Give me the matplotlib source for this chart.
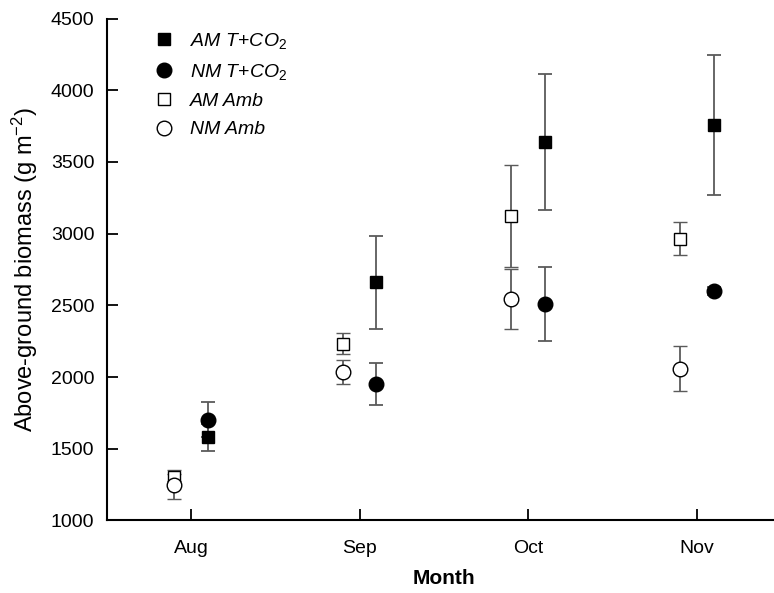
import matplotlib
matplotlib.use("Agg")
import matplotlib.pyplot as plt
from matplotlib.lines import Line2D
import numpy as np

plt.rcParams['font.family'] = ['Liberation Sans', 'DejaVu Sans']
plt.rcParams['mathtext.fontset'] = 'custom'
plt.rcParams['mathtext.rm'] = 'Liberation Sans'
plt.rcParams['mathtext.it'] = 'Liberation Sans:italic'

months = ["Aug", "Sep", "Oct", "Nov"]
am_t = [1579, 2660, 3638, 3759]
am_t_err = [93, 323, 472, 490]
nm_t = [1703, 1952, 2507, 2600]
nm_t_err = [124, 146, 258, 30]
am_amb = [1300, 2232, 3124, 2966]
am_amb_err = [25, 73, 353, 114]
nm_amb = [1250, 2038, 2547, 2059]
nm_amb_err = [100, 84, 210, 158]
labels = [r"$\mathit{AM\ T{+}CO_2}$", r"$\mathit{NM\ T{+}CO_2}$", "AM Amb", "NM Amb"]

fig = plt.figure(figsize=(7.74, 5.93), dpi=100)
ax = fig.add_axes([0.138, 0.1223, 0.871, 0.8464])

x = np.arange(1, len(months) + 1)
off = 0.1
ecol = "#5a5a5a"
common = dict(linestyle="none", ecolor=ecol, elinewidth=1.3, capsize=5, capthick=1.3, zorder=3)

sq_ms, ci_ms = 8.5, 10.5
ax.errorbar(x + off, am_t, yerr=am_t_err, marker="s", ms=sq_ms, mfc="black", mec="black", **common)
ax.errorbar(x + off, nm_t, yerr=nm_t_err, marker="o", ms=ci_ms, mfc="black", mec="black", **common)
ax.errorbar(x - off, am_amb, yerr=am_amb_err, marker="s", ms=sq_ms, mfc="white", mec="black",
            mew=1.0, **common)
ax.errorbar(x - off, nm_amb, yerr=nm_amb_err, marker="o", ms=ci_ms, mfc="white", mec="black",
            mew=1.0, **common)

ax.set_xlim(0.5, 4.5)
ax.set_ylim(1000, 4500)
ax.set_xticks(x)
ax.set_xticklabels(months)
ax.set_yticks(np.arange(1000, 4501, 500))
ax.tick_params(direction="in", length=8, width=1.3, labelsize=14, colors="black")
ax.tick_params(axis="y", pad=9)
ax.tick_params(axis="x", pad=14)
for s in ["top", "right"]:
    ax.spines[s].set_visible(False)
for s in ["left", "bottom"]:
    ax.spines[s].set_linewidth(1.5)

ax.set_xlabel("Month", fontsize=15, fontweight="bold", labelpad=9)
ax.set_ylabel(r"Above-ground biomass (g m$^{\mathregular{-2}}$)", fontsize=17, labelpad=8)

handles = [
    Line2D([], [], linestyle="none", marker="s", ms=sq_ms, mfc="black", mec="black"),
    Line2D([], [], linestyle="none", marker="o", ms=ci_ms, mfc="black", mec="black"),
    Line2D([], [], linestyle="none", marker="s", ms=sq_ms, mfc="white", mec="black", mew=1.0),
    Line2D([], [], linestyle="none", marker="o", ms=ci_ms, mfc="white", mec="black", mew=1.0),
]
leg = ax.legend(handles, labels, loc="upper left", bbox_to_anchor=(0.045, 1.01), frameon=False,
                fontsize=14, handletextpad=0.8, labelspacing=0.55, handlelength=1.0)
for t in leg.get_texts():
    t.set_fontstyle("italic")

fig.savefig("out.png", dpi=100)
